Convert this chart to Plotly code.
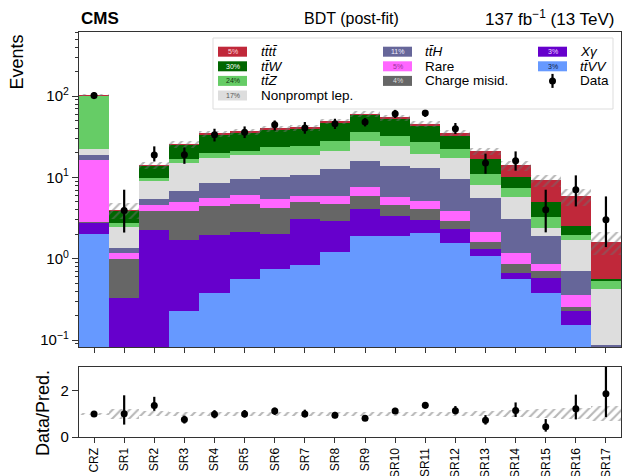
import plotly.graph_objects as go
import numpy as np

# ---------------- data ----------------
categories = ["CRZ"] + [f"SR{i}" for i in range(1, 18)]

# stacked components, bottom -> top
ttVV   = [2.00, 0.00, 0.00, 0.23, 0.38, 0.57, 0.75, 0.83, 1.21, 1.88, 1.93, 2.07, 1.56, 1.07, 0.57, 0.38, 0.154, 0.00]
Xgamma = [0.82, 0.33, 2.27, 1.45, 1.56, 1.56, 1.26, 2.25, 1.67, 2.20, 1.38, 0.95, 0.78, 0.25, 0.10, 0.20, 0.071, 0.00]
chmis  = [0.05, 0.66, 1.55, 2.21, 2.46, 2.62, 2.19, 1.85, 1.87, 1.88, 1.30, 1.06, 0.59, 0.27, 0.18, 0.12, 0.027, 0.00]
rare   = [13.3, 0.18, 0.71, 1.09, 1.18, 1.26, 1.27, 1.03, 1.21, 1.66, 1.14, 0.99, 0.96, 0.52, 0.33, 0.17, 0.102, 0.00]
ttH    = [2.70, 0.18, 0.89, 1.75, 2.95, 3.63, 4.53, 4.64, 6.74, 8.38, 8.25, 8.03, 5.75, 3.47, 1.93, 1.05, 0.357, 0.087]
nonpr  = [3.60, 1.08, 3.51, 8.27, 8.77, 9.36, 9.00, 8.40, 8.20, 11.7, 10.6, 6.30, 7.66, 2.55, 2.64, 0.47, 1.00, 0.341]
ttZ    = [79.5, 0.32, 0.87, 2.00, 2.70, 1.90, 4.70, 5.50, 6.80, 8.50, 7.60, 7.60, 5.20, 2.97, 1.67, 0.83, 0.23, 0.098]
ttW    = [1.00, 1.18, 4.10, 8.20, 14.2, 15.3, 15.7, 16.0, 20.3, 22.8, 20.3, 15.4, 9.40, 5.70, 2.69, 1.76, 0.56, 0.042]
tttt   = [0.20, 0.02, 0.10, 0.30, 0.30, 0.40, 0.50, 0.50, 1.00, 1.00, 2.00, 3.30, 3.30, 4.10, 4.00, 4.21, 3.34, 1.06]

# relative total uncertainty of the prediction
unc = [0.04, 0.22, 0.10, 0.09, 0.08, 0.08, 0.08, 0.08, 0.08, 0.08, 0.08, 0.08, 0.09, 0.10, 0.14, 0.18, 0.24, 0.32]

# observed data with error-bar bounds
data    = [102, 3.93, 18.9, 19.0, 33.5, 36.0, 44.5, 40.5, 45.7, 48.0, 60.8, 62.0, 39.7, 15.0, 16.0, 4.01, 7.06, 3.02]
data_lo = [92,  2.10, 15.7, 14.7, 27.7, 30.5, 37.8, 34.5, 39.4, 42.4, 53.8, 55.5, 34.2, 11.1, 12.1, 2.11, 4.40, 1.39]
data_hi = [112, 7.06, 24.1, 23.4, 39.7, 42.4, 50.2, 48.0, 52.7, 53.8, 68.0, 68.0, 46.7, 19.6, 20.9, 7.06, 10.6, 5.84]

series_names  = ["ttVV", "Xγ", "Charge misid.", "Rare", "ttH", "Nonprompt lep.", "ttZ", "ttW", "tttt"]
series_values = [ttVV, Xgamma, chmis, rare, ttH, nonpr, ttZ, ttW, tttt]
series_colors = ["#6699ff", "#6600cc", "#666666", "#ff66ff", "#666699", "#dddddd", "#66cc66", "#006600", "#c0283a"]

# legend content
M = "t\u0304"
leg_col1 = [("5%", "<i>t" + M + "t" + M + "</i>", "#c0283a", "#ffdddd"),
            ("30%", "<i>t" + M + "W</i>", "#006600", "#ffffff"),
            ("24%", "<i>t" + M + "Z</i>", "#66cc66", "#113311"),
            ("17%", "Nonprompt lep.", "#dddddd", "#555555")]
leg_col2 = [("11%", "<i>t" + M + "H</i>", "#666699", "#eeeeff"),
            ("5%", "Rare", "#ff66ff", "#993399"),
            ("4%", "Charge misid.", "#666666", "#dddddd")]
leg_col3 = [("3%", "<i>Xγ</i>", "#6600cc", "#eeddff"),
            ("3%", "<i>t" + M + "VV</i>", "#6699ff", "#112244")]

# ---------------- geometry helpers ----------------
W, H = 622, 476
ML, MR, MT, MB = 79, 1, 32, 39
def px(x):
    return (x - ML) / (W - ML - MR)
def py(y):
    return (H - MB - y) / (H - MT - MB)

FONT = "Liberation Sans, Arial, Helvetica, sans-serif"

fig = go.Figure()

# stacked histogram built from cumulative bases
cum = np.zeros(len(categories))
for name, vals, col in zip(series_names, series_values, series_colors):
    v = np.array(vals, dtype=float)
    fig.add_trace(go.Bar(x=categories, y=v, base=np.maximum(cum, 1e-4), name=name,
                         marker=dict(color=col, line=dict(width=0)),
                         showlegend=False, xaxis="x", yaxis="y"))
    cum = cum + v
total = cum.copy()
u = np.array(unc)

hatch = dict(color="rgba(0,0,0,0)", line=dict(width=0),
             pattern=dict(shape="/", fgcolor="#707070", size=6, solidity=0.35))

# uncertainty band (hatched) in main panel
fig.add_trace(go.Bar(x=categories, y=2 * u * total, base=total * (1 - u), marker=hatch,
                     showlegend=False, xaxis="x", yaxis="y"))

# data points
d = np.array(data); dl = np.array(data_lo); dh = np.array(data_hi)
fig.add_trace(go.Scatter(x=categories, y=d, mode="markers",
                         marker=dict(color="black", size=7),
                         error_y=dict(type="data", array=dh - d, arrayminus=d - dl,
                                      thickness=2.2, width=0, color="black"),
                         showlegend=False, xaxis="x", yaxis="y"))

# ratio panel band
fig.add_trace(go.Bar(x=categories, y=2 * u, base=1 - u, marker=hatch,
                     showlegend=False, xaxis="x2", yaxis="y2"))
r = d / total
fig.add_trace(go.Scatter(x=categories, y=r, mode="markers",
                         marker=dict(color="black", size=7),
                         error_y=dict(type="data", array=dh / total - r, arrayminus=r - dl / total,
                                      thickness=2.2, width=0, color="black"),
                         showlegend=False, xaxis="x2", yaxis="y2"))

main_bottom = py(347)
ratio_top = py(367)

axis_common = dict(showline=True, linecolor="#333333", linewidth=1.3, mirror=True,
                   showgrid=False, zeroline=False, ticks="outside", tickcolor="#333333",
                   tickfont=dict(family=FONT, size=15, color="black"))
axis_nofont = {k: v for k, v in axis_common.items() if k != "tickfont"}

minor_vals = [k * 10.0 ** e for e in range(-2, 3) for k in range(2, 10)]

fig.update_layout(
    width=W, height=H, margin=dict(l=ML, r=MR, t=MT, b=MB),
    paper_bgcolor="white", plot_bgcolor="white",
    barmode="overlay", bargap=0,
    font=dict(family=FONT, color="black"),
    xaxis=dict(domain=[0, 1], anchor="y", type="category", range=[-0.5, 17.5],
               showticklabels=False, ticklen=5, automargin=False, **axis_nofont),
    yaxis=dict(domain=[main_bottom, 1], anchor="x", type="log",
               range=[-1.086, 2.789], tickvals=[0.1, 1, 10, 100],
               ticktext=["10<sup>−1</sup>", "10<sup>0</sup>", "10<sup>1</sup>", "10<sup>2</sup>"],
               ticklen=6, automargin=False,
               minor=dict(tickvals=minor_vals, ticks="outside", ticklen=3, tickcolor="#333333"),
               **axis_common),
    xaxis2=dict(domain=[0, 1], anchor="y2", type="category", range=[-0.5, 17.5],
                tickangle=-90, ticklen=5, automargin=False,
                tickfont=dict(family=FONT, size=12, color="black"), **axis_nofont),
    yaxis2=dict(domain=[0, ratio_top], anchor="x2", range=[0, 3], tickvals=[0, 2],
                ticklen=6, automargin=False, **axis_common),
)

ann = []
shapes = []
ann.append(dict(x=px(79), y=py(18), xref="paper", yref="paper", text="<b>CMS</b>",
                showarrow=False, xanchor="left", yanchor="middle",
                font=dict(family=FONT, size=17, color="black")))
ann.append(dict(x=px(351), y=py(19), xref="paper", yref="paper", text="BDT (post-fit)",
                showarrow=False, xanchor="center", yanchor="middle",
                font=dict(family=FONT, size=16, color="black")))
ann.append(dict(x=px(617), y=py(18), xref="paper", yref="paper",
                text="137 fb<sup>−1</sup> (13 TeV)",
                showarrow=False, xanchor="right", yanchor="middle",
                font=dict(family=FONT, size=17, color="black")))
ann.append(dict(x=px(17), y=py(33), xref="paper", yref="paper", text="Events",
                showarrow=False, textangle=-90, xanchor="center", yanchor="top",
                font=dict(family=FONT, size=18, color="black")))
ann.append(dict(x=px(43), y=py(413), xref="paper", yref="paper", text="Data/Pred.",
                showarrow=False, textangle=-90, xanchor="center", yanchor="middle",
                font=dict(family=FONT, size=18, color="black")))

# legend box
shapes.append(dict(type="rect", xref="paper", yref="paper", x0=px(213), x1=px(613),
                   y0=py(109), y1=py(38), line=dict(color="#dddddd", width=1),
                   fillcolor="rgba(255,255,255,0.85)", layer="above"))
row_y = [51.7, 66.3, 80.9, 95.5]
cols = [(leg_col1, 218, 259), (leg_col2, 383, 423), (leg_col3, 538, 578)]
for entries, sx, tx in cols:
    for i, (pct, lab, col, tcol) in enumerate(entries):
        yc = row_y[i]
        shapes.append(dict(type="rect", xref="paper", yref="paper", x0=px(sx), x1=px(sx + 29),
                           y0=py(yc + 5), y1=py(yc - 5), line=dict(width=0), fillcolor=col,
                           layer="above"))
        ann.append(dict(x=px(sx + 14.5), y=py(yc), xref="paper", yref="paper", text=pct,
                        showarrow=False, xanchor="center", yanchor="middle",
                        font=dict(family=FONT, size=7, color=tcol)))
        ann.append(dict(x=px(tx), y=py(yc), xref="paper", yref="paper", text=lab,
                        showarrow=False, xanchor="left", yanchor="middle",
                        font=dict(family=FONT, size=13.5, color="black")))
# data legend entry
shapes.append(dict(type="line", xref="paper", yref="paper", x0=px(552.5), x1=px(552.5),
                   y0=py(row_y[2] + 7), y1=py(row_y[2] - 7), line=dict(color="black", width=2.2),
                   layer="above"))
shapes.append(dict(type="circle", xref="paper", yref="paper", x0=px(549), x1=px(556),
                   y0=py(row_y[2] + 3.5), y1=py(row_y[2] - 3.5), line=dict(width=0),
                   fillcolor="black", layer="above"))
ann.append(dict(x=px(578), y=py(row_y[2]), xref="paper", yref="paper", text="Data",
                showarrow=False, xanchor="left", yanchor="middle",
                font=dict(family=FONT, size=13.5, color="black")))

fig.update_layout(annotations=ann, shapes=shapes)
fig.write_html("out.html", config={"displayModeBar": False},
               post_script="document.body.style.margin='0';document.body.style.padding='0';")
